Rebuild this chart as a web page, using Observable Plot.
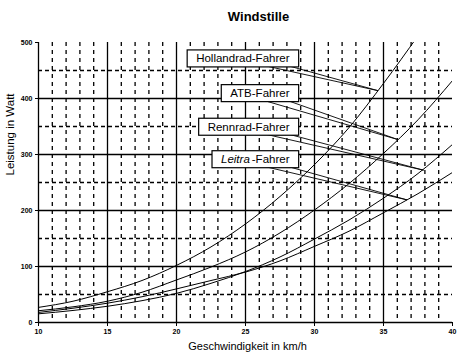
<!DOCTYPE html>
<html>
<head>
<meta charset="utf-8">
<script src="https://cdn.jsdelivr.net/npm/d3@7"></script>
<script src="https://cdn.jsdelivr.net/npm/@observablehq/plot@0.6"></script>
<style>
  body { margin: 0; background: #fff; }
  #chart { width: 463px; height: 361px; }
</style>
</head>
<body>
<div id="chart"></div>
<script>
// ---- data ----
const speeds     = [10, 12.5, 15, 17.5, 20, 22.5, 25, 27.5, 30, 32.5, 35, 37.5, 40];
const hollandrad = [27, 38, 55, 75, 102, 135, 176, 225, 282, 348, 427, 512, null];
const atb        = [21, 28, 38, 54, 76, 99, 126, 160, 201, 248, 302, 362, 432];
const rennrad    = [15.5, 21.5, 29, 39, 52, 70, 91, 117, 149, 183, 222, 266, 318];
const leitra     = [18, 25.5, 34.5, 46, 60, 75, 90, 110, 136, 163, 196, 230, 268];
const seriesNames = ["Hollandrad-Fahrer", "ATB-Fahrer", "Rennrad-Fahrer", "Leitra-Fahrer"];
const seriesValues = [hollandrad, atb, rennrad, leitra];

const xTicks = [10, 15, 20, 25, 30, 35, 40];
const yTicks = [0, 100, 200, 300, 400, 500];
const xMajorGrid = [15, 20, 25, 30, 35];
const xMinorGrid = d3.range(11, 40).filter(v => v % 5 !== 0);
const yMajorGrid = [100, 200, 300, 400];
const yMinorGrid = [50, 150, 250, 350, 450];

// callout annotations: label box (right edge x, centre y) and the point on the curve
const labelRightX = [28.84, 28.84, 28.84, 28.84];
const labelY      = [471, 409, 349, 291];
const targetX     = [34.6, 36.0, 37.9, 36.7];
const targetY     = [414, 327, 272, 219];

const titleText = "Windstille";
const xLabel = "Geschwindigkeit in km/h";
const yLabel = "Leistung in Watt";

// ---- build tables ----
const rows = [];
seriesNames.forEach((name, i) => {
  speeds.forEach((s, j) => {
    const v = seriesValues[i][j];
    if (v != null) rows.push({series: name, speed: s, power: v});
  });
});

// pixel scale factors used only to place wedge bases relative to boxes
const pxPerX = 414 / 30, pxPerY = 280 / 500;
const wedges = [];
seriesNames.forEach((name, i) => {
  const by = labelY[i] - 6 / pxPerY;
  wedges.push({k: name, x: labelRightX[i] - 38 / pxPerX, y: by});
  wedges.push({k: name, x: targetX[i], y: targetY[i]});
  wedges.push({k: name, x: labelRightX[i] - 14 / pxPerX, y: by});
});
const labels = seriesNames.map((name, i) => ({name, x: labelRightX[i], y: labelY[i]}));

const font = "Liberation Sans, Arial, Helvetica, sans-serif";

const svg = Plot.plot({
  width: 463,
  height: 361,
  marginTop: 42,
  marginLeft: 38,
  marginRight: 11,
  marginBottom: 39,
  style: {fontFamily: font, background: "#fff", color: "#000"},
  x: {domain: [10, 40]},
  y: {domain: [0, 500]},
  marks: [
    Plot.ruleX(xMinorGrid, {stroke: "#000", strokeWidth: 1.3, strokeDasharray: "4,4"}),
    Plot.ruleY(yMinorGrid, {stroke: "#000", strokeWidth: 1.3, strokeDasharray: "4,3"}),
    Plot.ruleX(xMajorGrid, {stroke: "#000", strokeWidth: 1.3}),
    Plot.ruleY(yMajorGrid, {stroke: "#000", strokeWidth: 1.3}),
    Plot.ruleX([10], {stroke: "#000", strokeWidth: 1.3}),
    Plot.ruleY([0], {stroke: "#000", strokeWidth: 1.3}),
    Plot.line(rows, {x: "speed", y: "power", z: "series", stroke: "#000", strokeWidth: 1, curve: "monotone-x", clip: true}),
    Plot.line(wedges, {x: "x", y: "y", z: "k", stroke: "#000", strokeWidth: 0.9, fill: "none"}),
    Plot.text(labels, {x: "x", y: "y", text: "name", textAnchor: "end", dx: -9, fontSize: 11.5, fill: "#000", className: "lbl"}),
    Plot.axisX({ticks: xTicks, tickSize: 4, tickPadding: 3, fontSize: 7, fontWeight: "bold", label: null, tickFormat: d => String(d)}),
    Plot.axisY({ticks: yTicks, tickSize: 3, tickPadding: 3, fontSize: 7, fontWeight: "bold", label: null, tickFormat: d => String(d)}),
    Plot.text([titleText], {frameAnchor: "top", text: d => d, dy: -31, dx: 13, fontSize: 13, fontWeight: "bold", fill: "#000"}),
    Plot.text([xLabel], {frameAnchor: "bottom", text: d => d, dy: 27, dx: 2, fontSize: 11, fill: "#000"}),
    Plot.text([yLabel], {frameAnchor: "left", text: d => d, rotate: -90, dx: -28, dy: -7, fontSize: 11.5, fill: "#000"})
  ]
});

document.getElementById("chart").appendChild(svg);

// callout boxes behind label text; italic "Leitra"
const g = svg.querySelector("g.lbl") || svg.querySelector(".lbl");
if (g) {
  const texts = Array.from(g.querySelectorAll("text"));
  texts.forEach(t => {
    if (t.textContent === "Leitra-Fahrer") {
      t.textContent = "";
      const a = document.createElementNS("http://www.w3.org/2000/svg", "tspan");
      a.setAttribute("font-style", "italic");
      a.textContent = "Leitra";
      const b = document.createElementNS("http://www.w3.org/2000/svg", "tspan");
      b.setAttribute("dx", "2");
      b.textContent = "-Fahrer";
      t.appendChild(a); t.appendChild(b);
    }
  });
  texts.forEach(t => {
    const bb = t.getBBox();
    const ctm = t.getAttribute("transform");
    const r = document.createElementNS("http://www.w3.org/2000/svg", "rect");
    r.setAttribute("x", bb.x - 9);
    r.setAttribute("y", bb.y - 2.5);
    r.setAttribute("width", bb.width + 18);
    r.setAttribute("height", bb.height + 5);
    r.setAttribute("fill", "#fff");
    r.setAttribute("stroke", "#000");
    r.setAttribute("stroke-width", "1.2");
    if (ctm) r.setAttribute("transform", ctm);
    g.insertBefore(r, g.firstChild);
  });
}
</script>
</body>
</html>
